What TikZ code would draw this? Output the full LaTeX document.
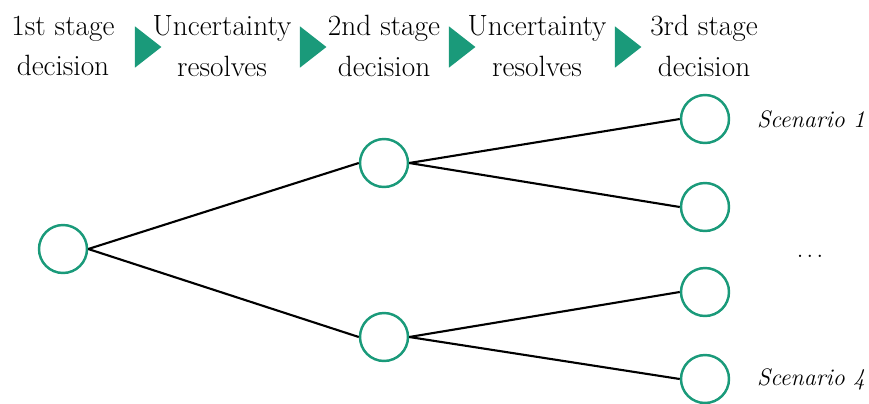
\documentclass[tikz,border=0pt]{standalone}
\usepackage{amsmath,amssymb}
\usetikzlibrary{shapes.geometric}

\definecolor{stagegreen}{RGB}{26,154,122}
\tikzset{
  decnode/.style={circle,draw=stagegreen,line width=1.4pt,minimum size=0.96cm,inner sep=0pt},
  stagetext/.style={align=center,font=\fontsize{16.7}{23.2}\selectfont},
  stagearrow/.style={isosceles triangle,isosceles triangle apex angle=76,fill=stagegreen,
    minimum height=0.53cm,inner sep=0pt,anchor=center},
  branch/.style={line width=1.2pt},
  scenlabel/.style={anchor=west,font=\fontsize{13.6}{16}\selectfont\itshape}
}

\begin{document}
\begin{tikzpicture}[x=0.02cm,y=-0.02cm]
\useasboundingbox (0,0) rectangle (869,403);

% the stages
\node [stagetext] (s1) at (63,46)  {1st stage\\decision};
\node [stagetext] (u1) at (222,46) {Uncertainty\\resolves};
\node [stagetext] (s2) at (384,46) {2nd stage\\decision};
\node [stagetext] (u2) at (537,46) {Uncertainty\\resolves};
\node [stagetext] (s3) at (704,46) {3rd stage\\decision};
\node [stagearrow] (a1) at (145,47) {};
\node [stagearrow] (a2) at (310,47) {};
\node [stagearrow] (a3) at (459,47) {};
\node [stagearrow] (a4) at (625,47) {};

% the tree
\node [decnode] (root) at (63,249) {};
\node [decnode] (midA) at (384,163) {};
\node [decnode] (midB) at (384,337) {};
\node [decnode] (leafA) at (705,119) {};
\node [decnode] (leafB) at (705,207) {};
\node [decnode] (leafC) at (705,292) {};
\node [decnode] (leafD) at (705,379) {};

\draw [branch] (root.east)--(midA.west);
\draw [branch] (root.east)--(midB.west);
\draw [branch] (midA.east)--(leafA.west);
\draw [branch] (midA.east)--(leafB.west);
\draw [branch] (midB.east)--(leafC.west);
\draw [branch] (midB.east)--(leafD.west);

% the scenarios
\node [scenlabel] (scA) at (751,119) {Scenario 1};
\node [scenlabel,font=\fontsize{16}{16}\selectfont,anchor=center] (dots) at (810,256) {.\kern1.6pt.\kern1.6pt.};
\node [scenlabel] (scD) at (751,379) {Scenario 4};

\end{tikzpicture}
\end{document}
